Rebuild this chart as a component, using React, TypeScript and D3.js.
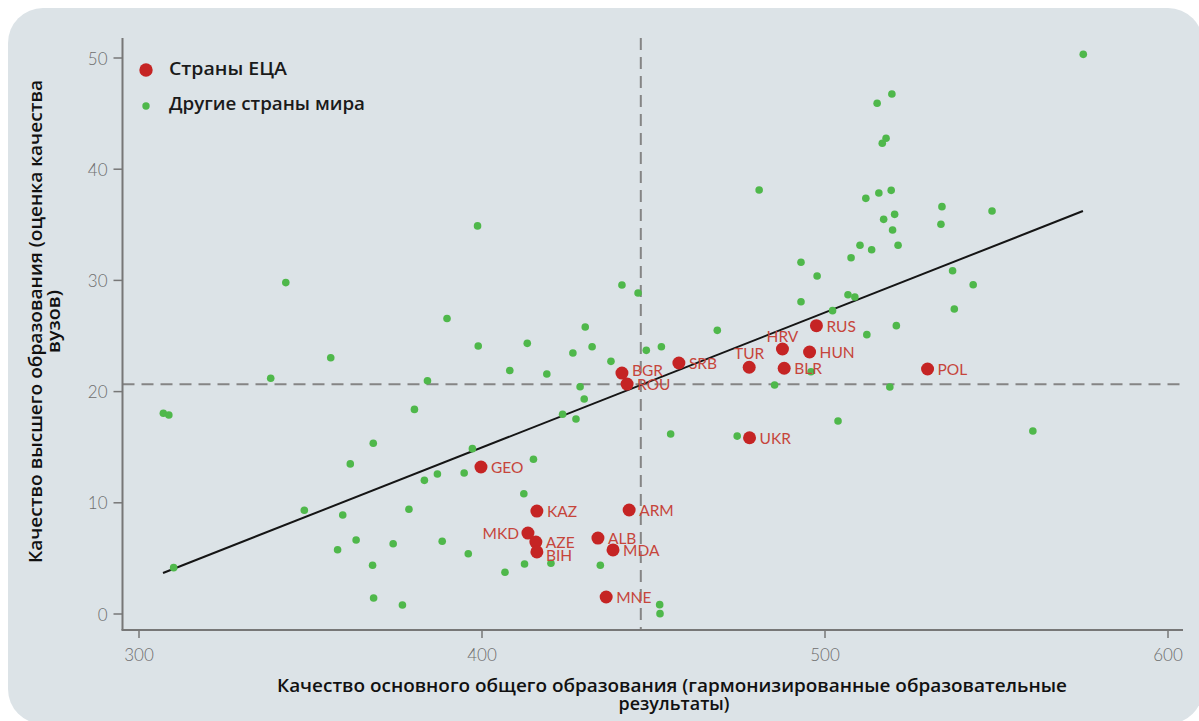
import React from "react";
import * as d3 from "d3";

// ---------- data ----------
const xTicks = [300, 400, 500, 600];
const yTicks = [0, 10, 20, 30, 40, 50];

const ecaCodes = ["GEO", "KAZ", "ARM", "MKD", "AZE", "BIH", "ALB", "MDA", "MNE", "BGR", "ROU", "SRB", "TUR", "HRV", "BLR", "HUN", "RUS", "POL", "UKR"];
const ecaX = [399.7, 416.0, 442.9, 413.4, 415.7, 416.0, 433.8, 438.2, 436.2, 440.8, 442.3, 457.4, 477.9, 487.6, 488.1, 495.5, 497.5, 529.9, 478.0];
const ecaY = [13.22, 9.26, 9.35, 7.28, 6.47, 5.58, 6.83, 5.76, 1.53, 21.67, 20.68, 22.57, 22.19, 23.83, 22.1, 23.56, 25.93, 22.03, 15.85];

const otherX = [
  307.1, 308.7, 310.1, 338.4, 342.8, 355.9, 348.2, 361.6, 359.4, 357.9,
  363.3, 368.1, 368.4, 368.3, 374.1, 376.8, 378.7, 380.3, 384.1, 387.0,
  383.2, 388.4, 389.8, 398.7, 397.2, 394.8, 396.0, 398.9, 408.1, 406.7,
  413.2, 415.0, 412.2, 412.4, 418.9, 420.1, 423.5, 426.5, 427.4, 428.6,
  429.8, 430.1, 432.1, 434.5, 437.6, 440.8, 445.5, 447.9, 452.3, 451.8,
  451.9, 455.0, 468.6, 474.4, 480.8, 485.3, 493.0, 493.0, 495.9, 497.7,
  502.2, 503.8, 506.7, 508.7, 507.6, 510.2, 511.9, 512.2, 513.6, 515.2,
  515.7, 516.7, 517.8, 517.1, 518.9, 519.3, 519.5, 519.7, 520.3, 520.8,
  521.3, 533.8, 534.1, 537.2, 537.7, 543.2, 548.7, 560.6, 575.3,
];
const otherY = [
  18.05, 17.9, 4.17, 21.2, 29.8, 23.05, 9.33, 13.5, 8.9, 5.78,
  6.65, 4.38, 1.44, 15.35, 6.32, 0.81, 9.42, 18.4, 20.98, 12.59,
  12.02, 6.54, 26.57, 34.9, 14.87, 12.68, 5.42, 24.1, 21.9, 3.75,
  24.34, 13.91, 10.82, 4.5, 21.58, 4.56, 17.96, 23.47, 17.54, 20.44,
  19.33, 25.81, 24.04, 4.38, 22.72, 29.59, 28.87, 23.71, 24.04, 0.84,
  0.03, 16.19, 25.51, 16.0, 38.13, 20.59, 31.63, 28.08, 21.79, 30.4,
  27.28, 17.36, 28.71, 28.51, 32.04, 33.16, 37.38, 25.12, 32.76, 45.93,
  37.86, 42.33, 42.78, 35.49, 20.41, 38.1, 46.76, 34.53, 35.94, 25.93,
  33.16, 35.05, 36.63, 30.87, 27.43, 29.61, 36.24, 16.46, 50.33,
];

const trendX = [307.0, 575.2];
const trendY = [3.69, 36.24];

const meanX = 446.3;
const meanY = 20.65;

const legendLabels = ["Страны ЕЦА", "Другие страны мира"];
const xTitle = ["Качество основного общего образования (гармонизированные образовательные", "результаты)"];
const yTitle = ["Качество высшего образования (оценка качества", "вузов)"];

// label placement (dx, dy, anchor)
const labelPlacement: Record<string, [number, number, string]> = {
  MKD: [-9, 0, "end"],
  TUR: [0, -14, "middle"],
  HRV: [0, -13, "middle"],
  BIH: [9, 3, "start"],
  BGR: [10, -3, "start"],
};

// ---------- styles ----------
const W = 1199;
const H = 721;
const BG = "#dce3e7";
const GREEN = "#4fb84b";
const RED = "#c52424";
const LABEL_RED = "#c6453b";
const AXIS = "#777777";
const TICK_TEXT = "#6e6e6e";
const TITLE_FONT = "Open Sans";

export default function App() {
  const x = d3.scaleLinear().domain([300, 600]).range([139, 1168]);
  const y = d3.scaleLinear().domain([0, 50]).range([614, 58]);

  const xMin = x.invert(122.5);
  const xMax = x.invert(1183);
  const yMin = y.invert(630);
  const yMax = y.invert(38);

  const trendLine = d3
    .line<number>()
    .x((_, i) => x(trendX[i]))
    .y((_, i) => y(trendY[i]));

  return (
    <svg
      width={W}
      height={H}
      style={{ position: "absolute", left: 0, top: 0, display: "block" }}
    >
      <rect x={0} y={0} width={W} height={H} fill="#ffffff" />
      <rect x={8} y={8} width={1195} height={716} rx={35} ry={35} fill={BG} />

      {/* reference dashed lines */}
      <line
        x1={x(xMin)}
        x2={x(xMax)}
        y1={y(meanY)}
        y2={y(meanY)}
        stroke="#858585"
        strokeWidth={2}
        strokeDasharray="12,7"
      />
      <line
        x1={x(meanX)}
        x2={x(meanX)}
        y1={y(yMax)}
        y2={y(yMin)}
        stroke="#858585"
        strokeWidth={2}
        strokeDasharray="12,7"
      />

      {/* axes */}
      <line x1={x(xMin)} x2={x(xMin)} y1={y(yMax)} y2={y(yMin)} stroke={AXIS} strokeWidth={2} />
      <line x1={x(xMin) - 1} x2={x(xMax)} y1={y(yMin)} y2={y(yMin)} stroke={AXIS} strokeWidth={2} />
      {yTicks.map((t) => (
        <g key={"yt" + t}>
          <line x1={x(xMin) - 9} x2={x(xMin)} y1={y(t)} y2={y(t)} stroke={AXIS} strokeWidth={1.5} />
          <text
            x={x(xMin) - 15}
            y={y(t)}
            textAnchor="end"
            dominantBaseline="central"
            fontFamily="Lato"
            fontWeight={300}
            fontSize={17}
            fill={TICK_TEXT}
          >
            {t}
          </text>
        </g>
      ))}
      {xTicks.map((t) => (
        <g key={"xt" + t}>
          <line x1={x(t)} x2={x(t)} y1={y(yMin)} y2={y(yMin) + 8} stroke={AXIS} strokeWidth={1.5} />
          <text
            x={x(t)}
            y={y(yMin) + 24}
            textAnchor="middle"
            dominantBaseline="central"
            fontFamily="Lato"
            fontWeight={300}
            fontSize={17}
            fill={TICK_TEXT}
          >
            {t}
          </text>
        </g>
      ))}

      {/* trend line */}
      <path d={trendLine(trendX) || ""} fill="none" stroke="#151515" strokeWidth={2} />

      {/* other countries */}
      {otherX.map((v, i) => (
        <circle key={"o" + i} cx={x(v)} cy={y(otherY[i])} r={3.8} fill={GREEN} />
      ))}

      {/* ECA countries */}
      {ecaCodes.map((c, i) => {
        const p = labelPlacement[c] || [10, 0, "start"];
        return (
          <g key={c}>
            <circle cx={x(ecaX[i])} cy={y(ecaY[i])} r={6.5} fill={RED} />
            <text
              x={x(ecaX[i]) + p[0]}
              y={y(ecaY[i]) + p[1]}
              textAnchor={p[2] as any}
              dominantBaseline="central"
              fontFamily="Lato"
              fontSize={15.5}
              fill={LABEL_RED}
            >
              {c}
            </text>
          </g>
        );
      })}

      {/* legend */}
      <circle cx={146} cy={70} r={6.7} fill={RED} />
      <text x={169} y={75} fontFamily={TITLE_FONT} fontWeight={600} fontSize={18} fill="#1a1a1a" textLength={118} lengthAdjust="spacingAndGlyphs">
        {legendLabels[0]}
      </text>
      <circle cx={146} cy={106} r={3.7} fill={GREEN} />
      <text x={169} y={110} fontFamily={TITLE_FONT} fontWeight={600} fontSize={18} fill="#1a1a1a" textLength={196} lengthAdjust="spacingAndGlyphs">
        {legendLabels[1]}
      </text>

      {/* axis titles */}
      <text textAnchor="middle" fontFamily={TITLE_FONT} fontWeight={600} fontSize={17.5} fill="#111">
        <tspan x={672} y={692} textLength={790} lengthAdjust="spacingAndGlyphs">{xTitle[0]}</tspan>
        <tspan x={674} y={710} textLength={111} lengthAdjust="spacingAndGlyphs">{xTitle[1]}</tspan>
      </text>
      <g transform="translate(0,321.5) rotate(-90)">
        <text textAnchor="middle" fontFamily={TITLE_FONT} fontWeight={600} fontSize={17.5} fill="#111">
          <tspan x={0} y={41.5} textLength={483} lengthAdjust="spacingAndGlyphs">{yTitle[0]}</tspan>
          <tspan x={0} y={59.5} textLength={63} lengthAdjust="spacingAndGlyphs">{yTitle[1]}</tspan>
        </text>
      </g>
    </svg>
  );
}
